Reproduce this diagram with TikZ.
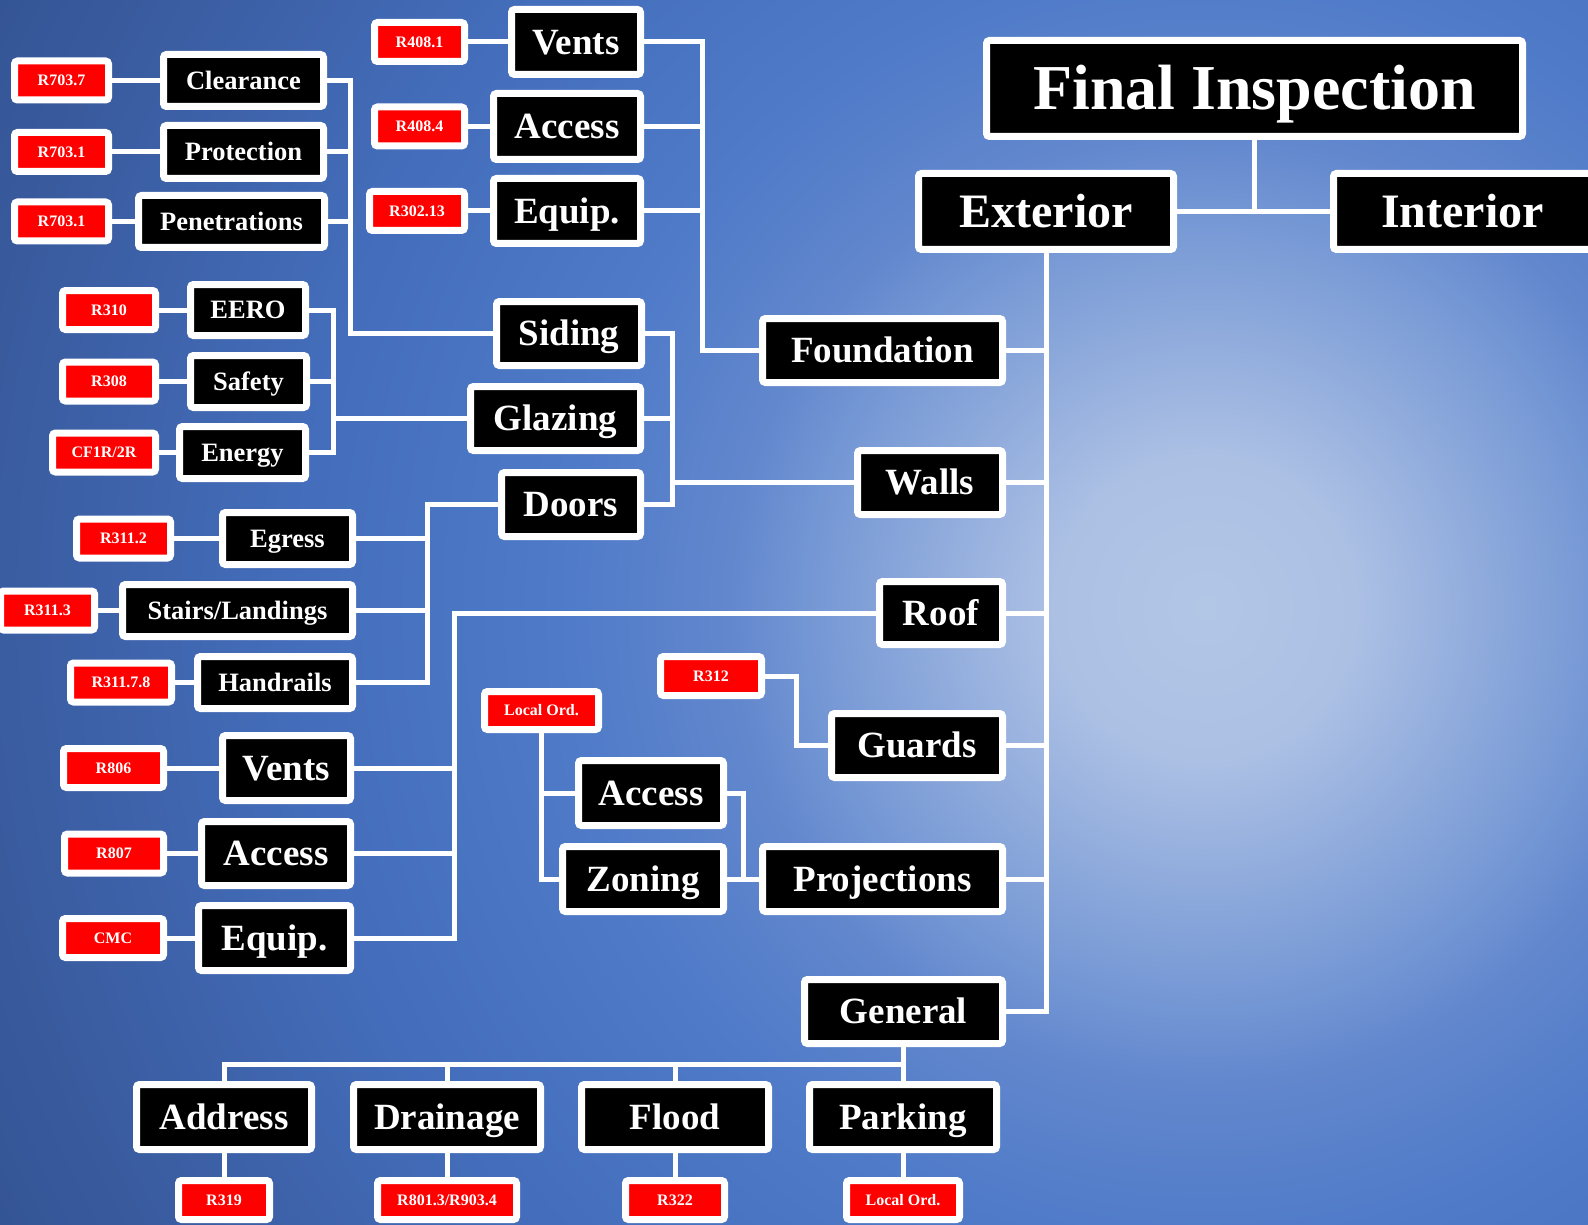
\documentclass[tikz,border=0pt]{standalone}
\usepackage{fontspec}
\setmainfont{Liberation Serif}
\usetikzlibrary{calc}
\pgfdeclarelayer{bg}
\pgfdeclarelayer{lines}
\pgfsetlayers{bg,lines,main}
\definecolor{s0}{RGB}{178,198,230}
\definecolor{s1}{RGB}{172,192,228}
\definecolor{s2}{RGB}{115,150,212}
\definecolor{s3}{RGB}{98,135,205}
\definecolor{s4}{RGB}{78,122,200}
\definecolor{s5}{RGB}{68,110,188}
\definecolor{s6}{RGB}{58,92,160}
\definecolor{s7}{RGB}{50,82,145}
\definecolor{lblred}{RGB}{255,0,0}
\pgfdeclareradialshading{bgshade}{\pgfpoint{0bp}{0bp}}{color(0bp)=(s0); color(2.7bp)=(s1); color(7.15bp)=(s2); color(8.5bp)=(s3); color(11.6bp)=(s4); color(16bp)=(s5); color(21.5bp)=(s6); color(25bp)=(s7); color(50bp)=(s7)}
\newcommand\bx[7]{\node[#1, minimum width={(#5)-(#3)-7}, minimum height={(#6)-(#4)-7}] (#2) at ({((#3)+(#5))/2},{((#4)+(#6))/2}) {#7};}
\tikzset{
  box/.style={draw=white, line width=7pt, fill=black, rounded corners=3pt, text=white, inner sep=0pt, text depth=0pt},
  lbl/.style={box, fill=lblred, font=\fontsize{16}{18}\selectfont\bfseries, text height=10.6pt},
  bsmall/.style={box, font=\fontsize{26.5}{30}\selectfont\bfseries, text height=17.5pt},
  bmed/.style={box, font=\fontsize{37}{40}\selectfont\bfseries, text height=24.5pt},
  bbig/.style={box, font=\fontsize{48}{52}\selectfont\bfseries, text height=31.8pt},
  bhuge/.style={box, font=\fontsize{64}{70}\selectfont\bfseries, text height=42.4pt},
  conn/.style={draw=white, line width=5pt, line join=miter}
}
\begin{document}
\begin{tikzpicture}[x=1pt,y=-1pt]
\useasboundingbox (0,0) rectangle (1588,1225);
\begin{pgfonlayer}{bg}
\clip (0,0) rectangle (1588,1225);
\shade[shading=bgshade] (1205,608) circle[radius=1400pt];
\end{pgfonlayer}

% top level
\bx{bhuge}{final}{983}{37}{1526}{140}{Final Inspection}
\bx{bbig}{ext}{915}{170}{1177}{253}{Exterior}
\bx{bbig}{int}{1330}{170}{1595}{253}{Interior}
\bx{bmed}{found}{759}{315}{1006}{386}{Foundation}
\bx{bmed}{walls}{854}{447}{1006}{518}{Walls}
\bx{bmed}{roof}{876}{578}{1006}{648}{Roof}
\bx{bmed}{guards}{828}{710}{1006}{781}{Guards}
\bx{bmed}{proj}{759}{843}{1006}{915}{Projections}
\bx{bmed}{general}{801}{976}{1006}{1047}{General}

% foundation group
\bx{bmed}{ventsA}{508}{6}{644}{78}{Vents}
\bx{lbl}{rA1}{371}{19}{468}{65}{R408.1}
\bx{bmed}{accessA}{490}{90}{644}{163}{Access}
\bx{lbl}{rA2}{371}{103.5}{468}{149.5}{R408.4}
\bx{bmed}{equipA}{490}{175}{644}{247}{Equip.}
\bx{lbl}{rA3}{366}{188}{468}{234}{R302.13}

% siding group
\bx{bsmall}{clear}{160}{51}{327}{110}{Clearance}
\bx{lbl}{rB1}{11}{57.5}{112}{103.5}{R703.7}
\bx{bsmall}{prot}{160}{122}{327}{182}{Protection}
\bx{lbl}{rB2}{11}{129}{112}{175}{R703.1}
\bx{bsmall}{pen}{135}{192}{328}{251}{Penetrations}
\bx{lbl}{rB3}{11}{198.5}{112}{244.5}{R703.1}
\bx{bmed}{siding}{493}{298}{645}{369}{Siding}

% glazing group
\bx{bsmall}{eero}{187}{281}{309}{339}{EERO}
\bx{lbl}{rC1}{59}{287}{159}{333}{R310}
\bx{bsmall}{safety}{187}{352}{310}{411}{Safety}
\bx{lbl}{rC2}{59}{358.5}{159}{404.5}{R308}
\bx{bsmall}{energy}{176}{423}{309}{482}{Energy}
\bx{lbl}{rC3}{49}{429.5}{159}{475.5}{CF1R/2R}
\bx{bmed}{glazing}{467}{383}{644}{454}{Glazing}
\bx{bmed}{doors}{498}{469}{644}{540}{Doors}

% doors group
\bx{bsmall}{egress}{219}{509}{356}{568}{Egress}
\bx{lbl}{rD1}{73}{515.5}{174}{561.5}{R311.2}
\bx{bsmall}{stairs}{119}{581}{356}{640}{Stairs/Landings}
\bx{lbl}{rD2}{-3}{587.5}{98}{633.5}{R311.3}
\bx{bsmall}{hand}{194}{653}{356}{712}{Handrails}
\bx{lbl}{rD3}{67}{659.5}{175}{705.5}{R311.7.8}

% roof group
\bx{bmed}{ventsB}{219}{732}{354}{804}{Vents}
\bx{lbl}{rE1}{60}{745}{167}{791}{R806}
\bx{bmed}{accessB}{198}{818}{354}{889}{Access}
\bx{lbl}{rE2}{61}{830.5}{167}{876.5}{R807}
\bx{bmed}{equipB}{195}{902}{354}{974}{Equip.}
\bx{lbl}{rE3}{59}{915}{167}{961}{CMC}

% guards
\bx{lbl}{rF}{657}{653}{765}{699}{R312}

% projections group
\bx{lbl}{rG}{481}{688}{602}{733}{Local Ord.}
\bx{bmed}{accessC}{575}{757}{727}{829}{Access}
\bx{bmed}{zoning}{559}{843}{727}{915}{Zoning}

% general group
\bx{bmed}{address}{133}{1081}{315}{1153}{Address}
\bx{bmed}{drain}{350}{1081}{544}{1153}{Drainage}
\bx{bmed}{flood}{578}{1081}{772}{1153}{Flood}
\bx{bmed}{parking}{806}{1081}{1000}{1153}{Parking}
\bx{lbl}{rH1}{175}{1177}{273}{1223}{R319}
\bx{lbl}{rH2}{374}{1177}{520}{1223}{R801.3/R903.4}
\bx{lbl}{rH3}{622}{1177}{728}{1223}{R322}
\bx{lbl}{rH4}{843}{1177}{963}{1223}{Local Ord.}

\coordinate (xA) at (702,0);
\coordinate (xB) at (350,0);
\coordinate (xC) at (333,0);
\coordinate (xW) at (672,0);
\coordinate (xD) at (427,0);
\coordinate (xE) at (454,0);
\coordinate (xF) at (796,0);
\coordinate (xP) at (743,0);
\coordinate (yG) at (0,1064);

\begin{pgfonlayer}{lines}
% labels to boxes
\draw[conn] (rA1.east) -- (ventsA.west);
\draw[conn] (rA2.east) -- (accessA.west);
\draw[conn] (rA3.east) -- (equipA.west);
\draw[conn] (rB1.east) -- (clear.west);
\draw[conn] (rB2.east) -- (prot.west);
\draw[conn] (rB3.east) -- (pen.west);
\draw[conn] (rC1.east) -- (eero.west);
\draw[conn] (rC2.east) -- (safety.west);
\draw[conn] (rC3.east) -- (energy.west);
\draw[conn] (rD1.east) -- (egress.west);
\draw[conn] (rD2.east) -- (stairs.west);
\draw[conn] (rD3.east) -- (hand.west);
\draw[conn] (rE1.east) -- (ventsB.west);
\draw[conn] (rE2.east) -- (accessB.west);
\draw[conn] (rE3.east) -- (equipB.west);
% top
\draw[conn] (final.south) -- (final.south |- ext.east);
\draw[conn] (ext.east) -- (int.west);
% exterior bus
\draw[conn] (ext.south) |- (general.east);
\draw[conn] (found.east) -- (ext.south |- found.east);
\draw[conn] (walls.east) -- (ext.south |- walls.east);
\draw[conn] (roof.east) -- (ext.south |- roof.east);
\draw[conn] (guards.east) -- (ext.south |- guards.east);
\draw[conn] (proj.east) -- (ext.south |- proj.east);
% foundation bus
\draw[conn] (ventsA.east) -| (xA |- found.west) -- (found.west);
\draw[conn] (accessA.east) -- (xA |- accessA.east);
\draw[conn] (equipA.east) -- (xA |- equipA.east);
% siding bus
\draw[conn] (clear.east) -| (xB |- siding.west) -- (siding.west);
\draw[conn] (prot.east) -- (xB |- prot.east);
\draw[conn] (pen.east) -- (xB |- pen.east);
% glazing bus
\draw[conn] (eero.east) -| (xC |- energy.east) -- (energy.east);
\draw[conn] (safety.east) -- (xC |- safety.east);
\draw[conn] (xC |- glazing.west) -- (glazing.west);
% walls bus
\draw[conn] (siding.east) -| (xW |- doors.east) -- (doors.east);
\draw[conn] (glazing.east) -- (xW |- glazing.east);
\draw[conn] (xW |- walls.west) -- (walls.west);
% doors bus
\draw[conn] (doors.west) -| (xD |- hand.east) -- (hand.east);
\draw[conn] (egress.east) -- (xD |- egress.east);
\draw[conn] (stairs.east) -- (xD |- stairs.east);
% roof bus
\draw[conn] (roof.west) -| (xE |- equipB.east) -- (equipB.east);
\draw[conn] (ventsB.east) -- (xE |- ventsB.east);
\draw[conn] (accessB.east) -- (xE |- accessB.east);
% guards
\draw[conn] (rF.east) -| (xF |- guards.west) -- (guards.west);
% projections
\draw[conn] (rG.south) |- (zoning.west);
\draw[conn] (accessC.west) -- (rG.south |- accessC.west);
\draw[conn] (accessC.east) -| (xP |- proj.west) -- (proj.west);
\draw[conn] (zoning.east) -- (proj.west);
% general
\draw[conn] (general.south) |- (address.north |- yG) -- (address.north);
\draw[conn] (drain.north) -- (drain.north |- yG);
\draw[conn] (flood.north) -- (flood.north |- yG);
\draw[conn] (parking.north) -- (parking.north |- yG);
\draw[conn] (address.south) -- (rH1.north);
\draw[conn] (drain.south) -- (rH2.north);
\draw[conn] (flood.south) -- (rH3.north);
\draw[conn] (parking.south) -- (rH4.north);
\end{pgfonlayer}
\end{tikzpicture}
\end{document}
